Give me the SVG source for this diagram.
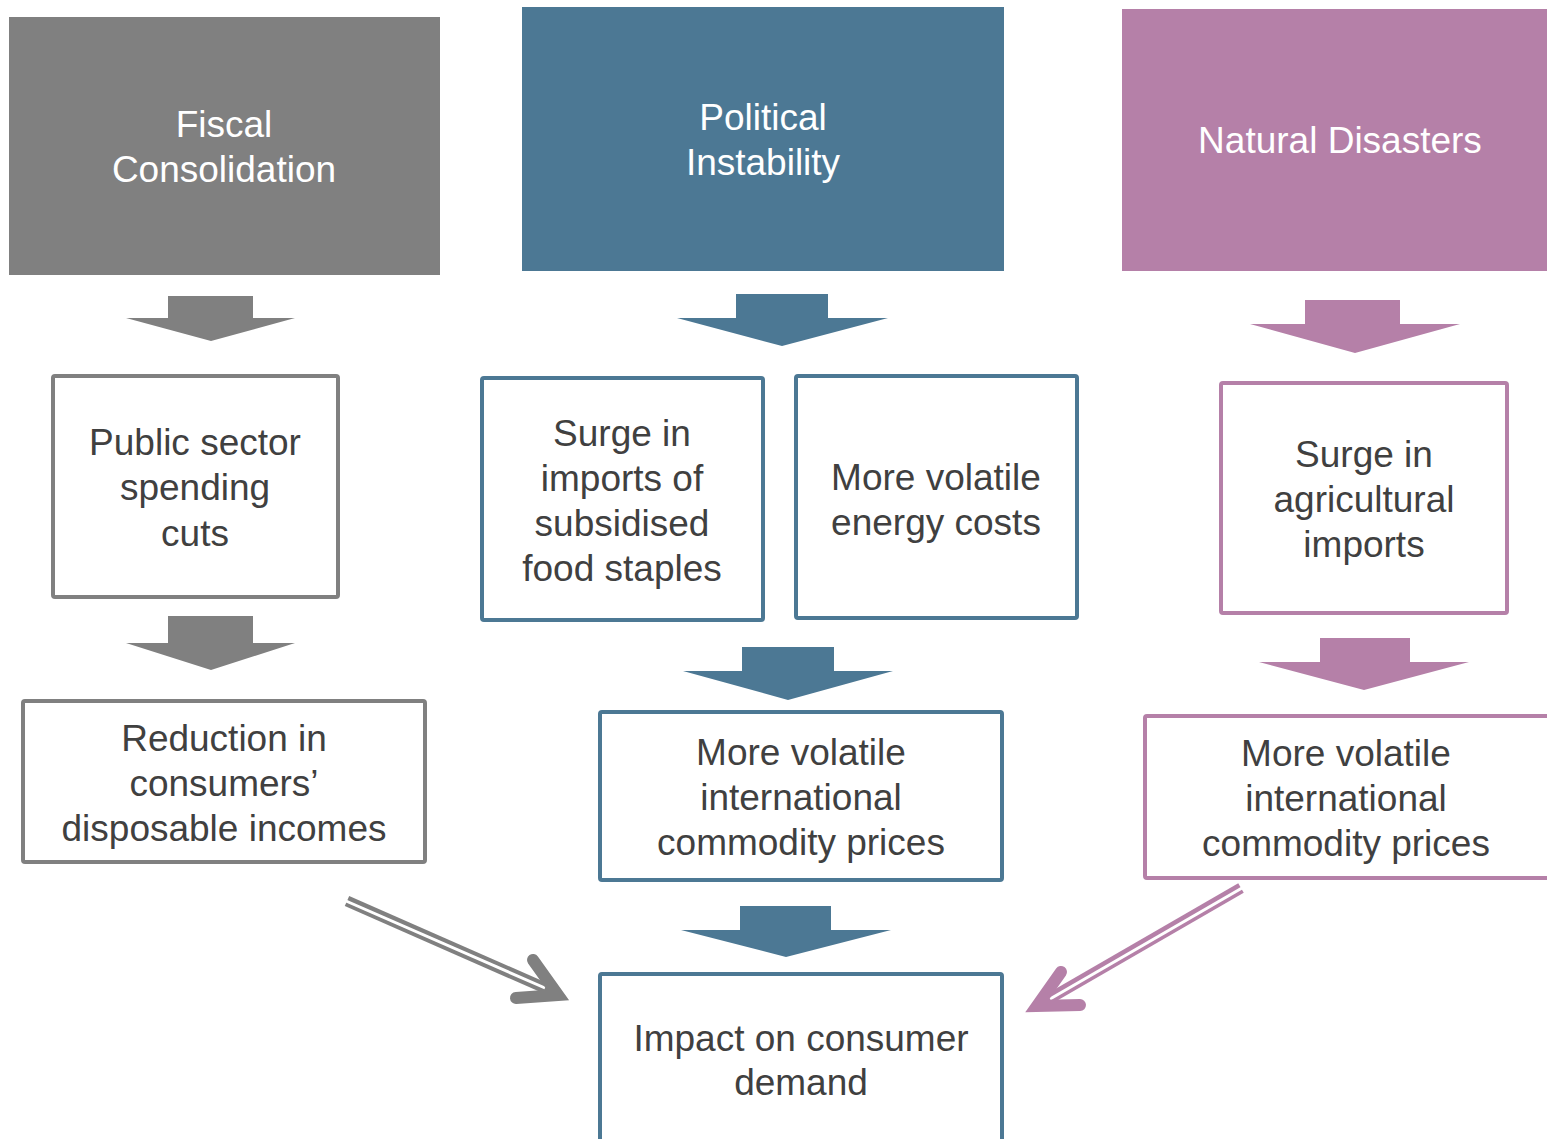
<svg xmlns="http://www.w3.org/2000/svg" width="1547" height="1139" viewBox="0 0 1547 1139">
<style>
text{font-family:"Liberation Sans",Arial,sans-serif;font-size:37px;text-anchor:middle;fill:#404040}
.title{fill:#ffffff}
.box{fill:#ffffff;stroke-width:4}
.g{stroke:#808080}
.b{stroke:#4C7894}
.p{stroke:#B580A8}
.fg{fill:#808080}
.fb{fill:#4C7894}
.fp{fill:#B580A8}
.shaft{fill:none;stroke-width:11}
.inner{fill:none;stroke:#ffffff;stroke-width:3}
.head{fill:none;stroke-width:12;stroke-linecap:round;stroke-linejoin:miter}
</style>
<rect width="1547" height="1139" fill="#ffffff"/>
<g id="fiscal">
<rect x="9" y="17" width="431" height="258" class="fg"/>
<text class="title" x="224" y="137">Fiscal</text>
<text class="title" x="224" y="182">Consolidation</text>
</g>
<g id="political">
<rect x="522" y="7" width="482" height="264" class="fb"/>
<text class="title" x="763" y="130">Political</text>
<text class="title" x="763" y="175">Instability</text>
</g>
<g id="natural">
<rect x="1122" y="9" width="425" height="262" class="fp"/>
<text class="title" x="1340" y="153">Natural Disasters</text>
</g>
<g id="public">
<rect x="53" y="376" width="285" height="221" rx="2" class="box g"/>
<text x="195" y="455">Public sector</text>
<text x="195" y="500">spending</text>
<text x="195" y="546">cuts</text>
</g>
<g id="reduction">
<rect x="23" y="701" width="402" height="161" rx="2" class="box g"/>
<text x="224" y="751">Reduction in</text>
<text x="224" y="796">consumers’</text>
<text x="224" y="841">disposable incomes</text>
</g>
<g id="surge-food">
<rect x="482" y="378" width="281" height="242" rx="2" class="box b"/>
<text x="622" y="446">Surge in</text>
<text x="622" y="491">imports of</text>
<text x="622" y="536">subsidised</text>
<text x="622" y="581">food staples</text>
</g>
<g id="energy">
<rect x="796" y="376" width="281" height="242" rx="2" class="box b"/>
<text x="936" y="490">More volatile</text>
<text x="936" y="535">energy costs</text>
</g>
<g id="commodity-blue">
<rect x="600" y="712" width="402" height="168" rx="2" class="box b"/>
<text x="801" y="765">More volatile</text>
<text x="801" y="810">international</text>
<text x="801" y="855">commodity prices</text>
</g>
<g id="surge-agri">
<rect x="1221" y="383" width="286" height="230" rx="2" class="box p"/>
<text x="1364" y="467">Surge in</text>
<text x="1364" y="512">agricultural</text>
<text x="1364" y="557">imports</text>
</g>
<g id="commodity-purple">
<rect x="1145" y="716" width="404" height="162" rx="2" class="box p"/>
<text x="1346" y="766">More volatile</text>
<text x="1346" y="811">international</text>
<text x="1346" y="856">commodity prices</text>
</g>
<g id="impact">
<rect x="600" y="974" width="402" height="175" rx="2" class="box b"/>
<text x="801" y="1051">Impact on consumer</text>
<text x="801" y="1095">demand</text>
</g>
<g id="connectors">
<polygon class="fg" points="168,296 253,296 253,318 295,318 211,341 126,318 168,318"/>
<polygon class="fg" points="168,616 253,616 253,643 295,643 211,670 126,643 168,643"/>
<polygon class="fb" points="736,294 828,294 828,318 888,318 782,346 677,318 736,318"/>
<polygon class="fb" points="742,647 834,647 834,671 893,671 788,700 683,671 742,671"/>
<polygon class="fb" points="740,906 831,906 831,930 891,930 786,957 681,930 740,930"/>
<polygon class="fp" points="1305,300 1400,300 1400,324 1460,324 1355,353 1250,324 1305,324"/>
<polygon class="fp" points="1320,638 1410,638 1410,662 1469,662 1364,690 1259,662 1320,662"/>
<line class="shaft g" x1="347" y1="901" x2="554" y2="992"/>
<line class="inner" x1="346" y1="901" x2="545" y2="988"/>
<path class="head g" d="M533,960 L558,995 L516,998"/>
<line class="shaft p" x1="1241" y1="888" x2="1042" y2="1003"/>
<line class="inner" x1="1242" y1="888" x2="1050" y2="999"/>
<path class="head p" d="M1061,972 L1037,1006 L1080,1005"/>
</g>
</svg>
